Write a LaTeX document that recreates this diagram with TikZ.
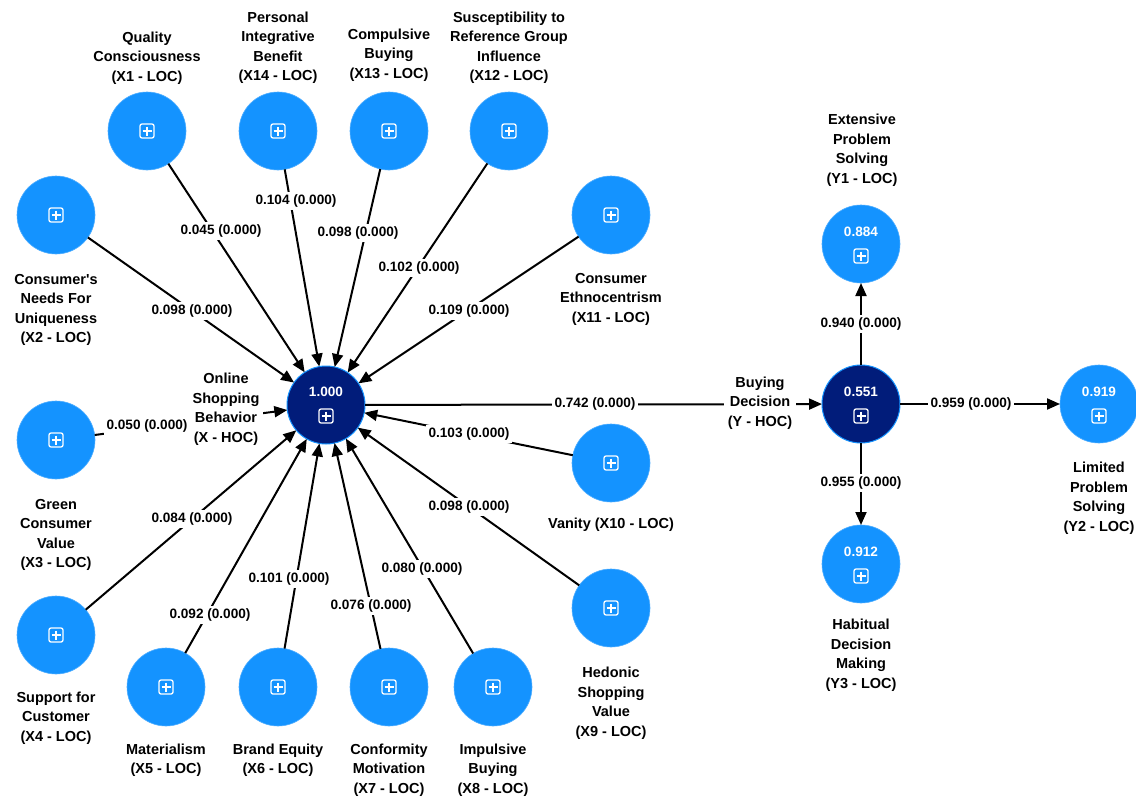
\documentclass[tikz,border=0pt]{standalone}
\usepackage{fontspec}
\setmainfont{Liberation Sans}
\usetikzlibrary{arrows.meta}
\definecolor{lvblue}{RGB}{20,147,255}
\definecolor{hocblue}{RGB}{1,28,122}
\tikzset{
  lvnode/.style={circle, fill=lvblue, draw=lvblue!75!white, line width=0.6pt, minimum size=78pt, inner sep=0pt, outer sep=0pt},
  hocnode/.style={circle, fill=hocblue, draw=lvblue, line width=1pt, minimum size=78pt, inner sep=0pt, outer sep=0pt},
  nlabel/.style={fill=white, inner sep=4pt, align=center, text=black, font=\bfseries\fontsize{14.5}{19.5}\selectfont},
  elabel/.style={fill=white, inner sep=3pt, text=black, font=\bfseries\fontsize{13.6}{16}\selectfont},
  valtext/.style={text=white, inner sep=0pt, font=\bfseries\fontsize{13.6}{16}\selectfont},
  conn/.style={line width=2pt, draw=black, -{Triangle[length=13pt,width=11pt]}},
  plusicon/.pic={
    \draw[white, line width=1.3pt, rounded corners=2pt] (-7,-7) rectangle (7,7);
    \draw[white, line width=1.3pt] (-4.5,0) -- (4.5,0) (0,-4.5) -- (0,4.5);
  }
}
\begin{document}
\begin{tikzpicture}[x=1pt, y=-1pt]
\useasboundingbox[fill=white] (0,0) rectangle (1136,800);

% circles
\node[hocnode] (X) at (326,405) {};
\node[hocnode] (Y) at (861,404) {};
\node[lvnode] (X1) at (147,131) {};
\node[lvnode] (X14) at (278,131) {};
\node[lvnode] (X13) at (389,131) {};
\node[lvnode] (X12) at (509,131) {};
\node[lvnode] (X11) at (611,215) {};
\node[lvnode] (X2) at (56,215) {};
\node[lvnode] (X3) at (56,440) {};
\node[lvnode] (X4) at (56,635) {};
\node[lvnode] (X5) at (166,687) {};
\node[lvnode] (X6) at (278,687) {};
\node[lvnode] (X7) at (389,687) {};
\node[lvnode] (X8) at (493,687) {};
\node[lvnode] (X9) at (611,608) {};
\node[lvnode] (X10) at (611,463) {};
\node[lvnode] (Y1) at (861,244) {};
\node[lvnode] (Y2) at (1099,404) {};
\node[lvnode] (Y3) at (861,564) {};

% icons and values
\foreach \n in {X1,X14,X13,X12,X11,X2,X3,X4,X5,X6,X7,X8,X9,X10}{
  \pic at (\n.center) {plusicon};
}
\node[valtext] (vX) at ([yshift=13pt]X.center) {1.000};
\pic at ([yshift=-11pt]X.center) {plusicon};
\node[valtext] (vY) at ([yshift=12pt]Y.center) {0.551};
\pic at ([yshift=-12pt]Y.center) {plusicon};
\node[valtext] (vY1) at ([yshift=12pt]Y1.center) {0.884};
\pic at ([yshift=-12pt]Y1.center) {plusicon};
\node[valtext] (vY2) at ([yshift=12pt]Y2.center) {0.919};
\pic at ([yshift=-12pt]Y2.center) {plusicon};
\node[valtext] (vY3) at ([yshift=12pt]Y3.center) {0.912};
\pic at ([yshift=-12pt]Y3.center) {plusicon};

% connectors
\foreach \n in {X1,X14,X13,X12,X11,X2,X3,X4,X5,X6,X7,X8,X9,X10}{
  \draw[conn] (\n) -- (X);
}
\draw[conn] (X) -- (Y);
\draw[conn] (Y) -- (Y1);
\draw[conn] (Y) -- (Y2);
\draw[conn] (Y) -- (Y3);

% edge labels
\node[elabel] (e1) at (221,231) {0.045 (0.000)};
\node[elabel] (e14) at (296,201) {0.104 (0.000)};
\node[elabel] (e13) at (358,233) {0.098 (0.000)};
\node[elabel] (e12) at (419,268) {0.102 (0.000)};
\node[elabel] (e11) at (469,311) {0.109 (0.000)};
\node[elabel] (e2) at (192,311) {0.098 (0.000)};
\node[elabel] (e3) at (147,426) {0.050 (0.000)};
\node[elabel] (e4) at (192,519) {0.084 (0.000)};
\node[elabel] (e5) at (210,615) {0.092 (0.000)};
\node[elabel] (e6) at (289,579) {0.101 (0.000)};
\node[elabel] (e7) at (371,606) {0.076 (0.000)};
\node[elabel] (e8) at (422,569) {0.080 (0.000)};
\node[elabel] (e9) at (469,507) {0.098 (0.000)};
\node[elabel] (e10) at (469,434) {0.103 (0.000)};
\node[elabel] (eXY) at (595,404) {0.742 (0.000)};
\node[elabel] (eY1) at (861,324) {0.940 (0.000)};
\node[elabel] (eY2) at (971,404) {0.959 (0.000)};
\node[elabel] (eY3) at (861,483) {0.955 (0.000)};

% node labels
\node[nlabel] (lX1) at (147,58) {Quality\\Consciousness\\(X1 - LOC)};
\node[nlabel] (lX14) at (278,48) {Personal\\Integrative\\Benefit\\(X14 - LOC)};
\node[nlabel] (lX13) at (389,55) {Compulsive\\Buying\\(X13 - LOC)};
\node[nlabel] (lX12) at (509,48) {Susceptibility to\\Reference Group\\Influence\\(X12 - LOC)};
\node[nlabel] (lX11) at (611,299) {Consumer\\Ethnocentrism\\(X11 - LOC)};
\node[nlabel] (lX2) at (56,310) {Consumer\textquotesingle s\\Needs For\\Uniqueness\\(X2 - LOC)};
\node[nlabel] (lX3) at (56,535) {Green\\Consumer\\Value\\(X3 - LOC)};
\node[nlabel] (lX4) at (56,718) {Support for\\Customer\\(X4 - LOC)};
\node[nlabel] (lX5) at (166,760) {Materialism\\(X5 - LOC)};
\node[nlabel] (lX6) at (278,760) {Brand Equity\\(X6 - LOC)};
\node[nlabel] (lX7) at (389,770) {Conformity\\Motivation\\(X7 - LOC)};
\node[nlabel] (lX8) at (493,770) {Impulsive\\Buying\\(X8 - LOC)};
\node[nlabel] (lX9) at (611,703) {Hedonic\\Shopping\\Value\\(X9 - LOC)};
\node[nlabel] (lX10) at (611,525) {Vanity (X10 - LOC)};
\node[nlabel] (lX) at (226,409) {Online\\Shopping\\Behavior\\(X - HOC)};
\node[nlabel] (lY) at (760,403) {Buying\\Decision\\(Y - HOC)};
\node[nlabel] (lY1) at (862,150) {Extensive\\Problem\\Solving\\(Y1 - LOC)};
\node[nlabel] (lY2) at (1099,498) {Limited\\Problem\\Solving\\(Y2 - LOC)};
\node[nlabel] (lY3) at (861,655) {Habitual\\Decision\\Making\\(Y3 - LOC)};
\end{tikzpicture}
\end{document}
